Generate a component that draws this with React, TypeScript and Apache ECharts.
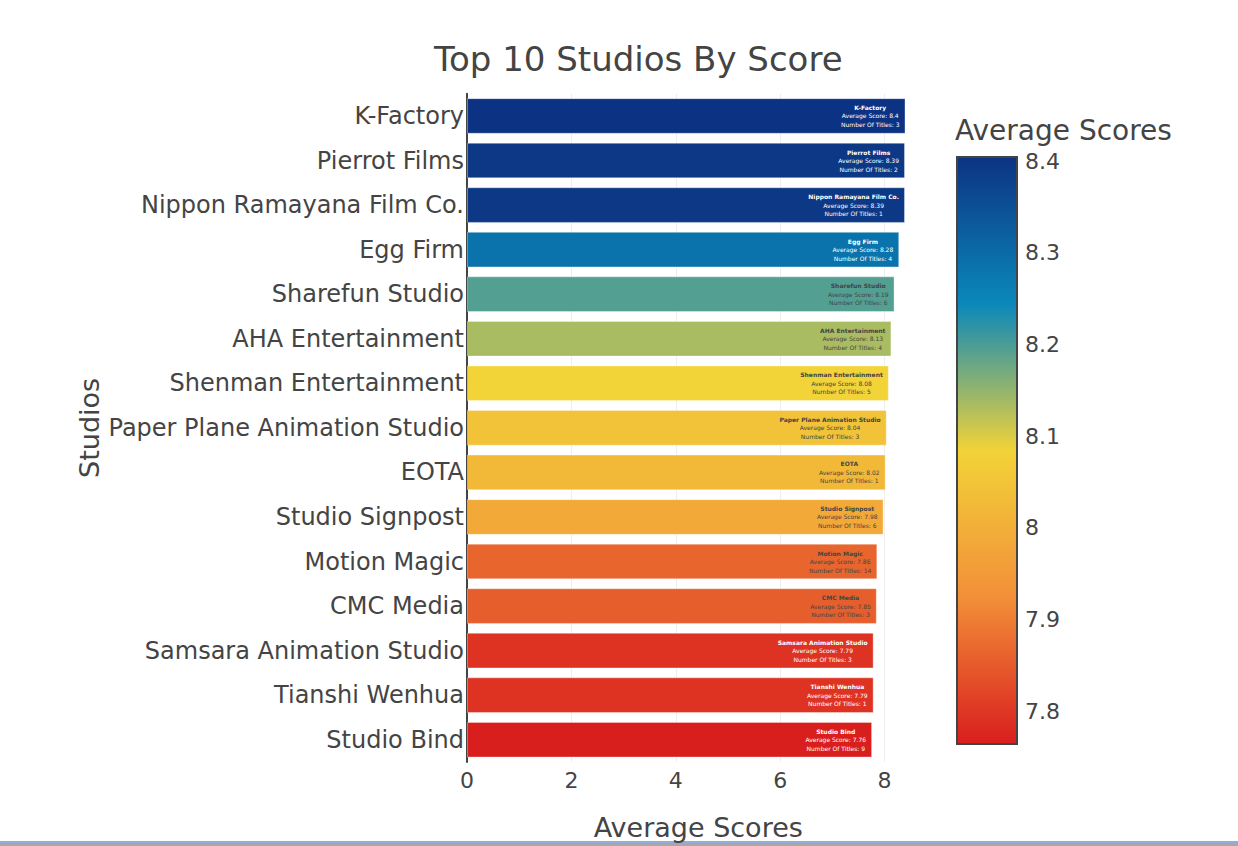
import React, { useEffect, useRef } from "react";
import * as echarts from "echarts";

const studios = [
  "K-Factory",
  "Pierrot Films",
  "Nippon Ramayana Film Co.",
  "Egg Firm",
  "Sharefun Studio",
  "AHA Entertainment",
  "Shenman Entertainment",
  "Paper Plane Animation Studio",
  "EOTA",
  "Studio Signpost",
  "Motion Magic",
  "CMC Media",
  "Samsara Animation Studio",
  "Tianshi Wenhua",
  "Studio Bind",
];
const scores = [8.4, 8.39, 8.39, 8.28, 8.19, 8.13, 8.08, 8.04, 8.02, 7.98, 7.86, 7.85, 7.79, 7.79, 7.76];
const titleCounts = [3, 2, 1, 4, 6, 4, 5, 3, 1, 6, 14, 3, 3, 1, 9];
const xTicks = [0, 2, 4, 6, 8];
const colorbarTicks = [7.8, 7.9, 8.0, 8.1, 8.2, 8.3, 8.4];
const colorbarTickLabels = ["7.8", "7.9", "8", "8.1", "8.2", "8.3", "8.4"];
// Portland colour scale, reversed (low = red, high = dark blue)
const scaleColors = ["#d91e1e", "#f28f38", "#f2d338", "#0a88ba", "#0c3383"];

const FONT = '"DejaVu Sans", Verdana, sans-serif';
const TXT = "#444";

export default function App() {
  const ref = useRef<HTMLDivElement>(null);
  useEffect(() => {
    if (!ref.current) return;
    const chart = echarts.init(ref.current, undefined, { renderer: "svg" });
    const cmin = Math.min(...scores);
    const cmax = Math.max(...scores);
    const colorOf = (v: number) => echarts.color.lerp((v - cmin) / (cmax - cmin), scaleColors) as string;
    const textOn = (c: string) => {
      const p = echarts.color.parse(c) as number[];
      const b = (p[0] * 299 + p[1] * 587 + p[2] * 114) / 1000;
      return b >= 128 ? TXT : "#fff";
    };

    // colorbar geometry
    const cbX = 957, cbY = 157, cbW = 60, cbH = 587;
    const cbYOf = (v: number) => cbY + ((cmax - v) / (cmax - cmin)) * cbH;

    const graphics: any[] = [
      {
        type: "rect",
        shape: { x: cbX, y: cbY, width: cbW, height: cbH },
        style: {
          fill: new echarts.graphic.LinearGradient(0, 0, 0, 1, [
            { offset: 0, color: scaleColors[4] },
            { offset: 0.25, color: scaleColors[3] },
            { offset: 0.5, color: scaleColors[2] },
            { offset: 0.75, color: scaleColors[1] },
            { offset: 1, color: scaleColors[0] },
          ]),
          stroke: TXT,
          lineWidth: 2,
        },
      },
      {
        type: "text",
        x: 955,
        y: 130,
        style: { text: "Average Scores", fontSize: 28, fontFamily: FONT, fill: TXT, verticalAlign: "middle" },
      },
      ...colorbarTicks.map((t, i) => ({
        type: "text",
        x: 1025,
        y: cbYOf(t) + 4,
        style: {
          text: colorbarTickLabels[i],
          fontSize: 22,
          fontFamily: FONT,
          fill: TXT,
          verticalAlign: "middle",
        },
      })),
      {
        type: "rect",
        shape: { x: 0, y: 841, width: 1238, height: 2 },
        style: { fill: "#93acd8" },
      },
      {
        type: "rect",
        shape: { x: 0, y: 843, width: 1238, height: 3 },
        style: { fill: "#a8a8a8" },
      },
    ];

    chart.setOption({
      animation: false,
      backgroundColor: "#fff",
      title: {
        text: "Top 10 Studios By Score",
        left: 429,
        top: 37,
        textStyle: { fontSize: 34, fontWeight: "normal", color: TXT, fontFamily: FONT },
      },
      grid: { left: 467, right: 1238 - 905.5, top: 93.7, bottom: 846 - 763.3, containLabel: false },
      xAxis: {
        type: "value",
        min: 0,
        max: 8.4,
        interval: 2,
        axisLine: { show: false },
        axisTick: { show: false, customValues: xTicks },
        splitLine: { show: true, lineStyle: { color: "#eee", width: 1 } },
        axisLabel: {
          fontSize: 22,
          color: TXT,
          fontFamily: FONT,
          margin: 7,
          customValues: xTicks,
        },
        name: "Average Scores",
        nameLocation: "middle",
        nameGap: 52,
        nameTextStyle: { fontSize: 27, color: TXT, fontFamily: FONT, padding: [0, 0, 0, 24] },
      },
      yAxis: {
        type: "category",
        inverse: true,
        data: studios,
        axisLine: { show: true, lineStyle: { color: TXT, width: 2 } },
        axisTick: { show: false },
        axisLabel: { fontSize: 24, color: TXT, fontFamily: FONT, margin: 3 },
        name: "Studios",
        nameLocation: "middle",
        nameGap: 364,
        nameRotate: 90,
        nameTextStyle: { fontSize: 27, color: TXT, fontFamily: FONT },
      },
      series: [
        {
          type: "bar",
          barCategoryGap: "20%",
          data: scores.map((v) => {
            const c = colorOf(v);
            return {
              value: v,
              itemStyle: { color: c, borderColor: "rgba(255,255,255,0.35)", borderWidth: 1 },
              label: { color: textOn(c) },
            };
          }),
          label: {
            show: true,
            position: "insideRight",
            distance: 6,
            fontFamily: FONT,
            formatter: (p: any) =>
              `{b|${studios[p.dataIndex]}}\n{n|Average Score: ${scores[p.dataIndex]}}\n{n|Number Of Titles: ${titleCounts[p.dataIndex]}}`,
            rich: {
              b: { fontSize: 6, fontWeight: "bold", lineHeight: 8.5, align: "center", fontFamily: FONT },
              n: { fontSize: 6, lineHeight: 8.5, align: "center", fontFamily: FONT },
            },
          },
        },
      ],
      graphic: graphics,
    });
    return () => chart.dispose();
  }, []);
  return (
    <div
      ref={ref}
      style={{ position: "fixed", left: 0, top: 0, width: 1238, height: 846 }}
    />
  );
}
